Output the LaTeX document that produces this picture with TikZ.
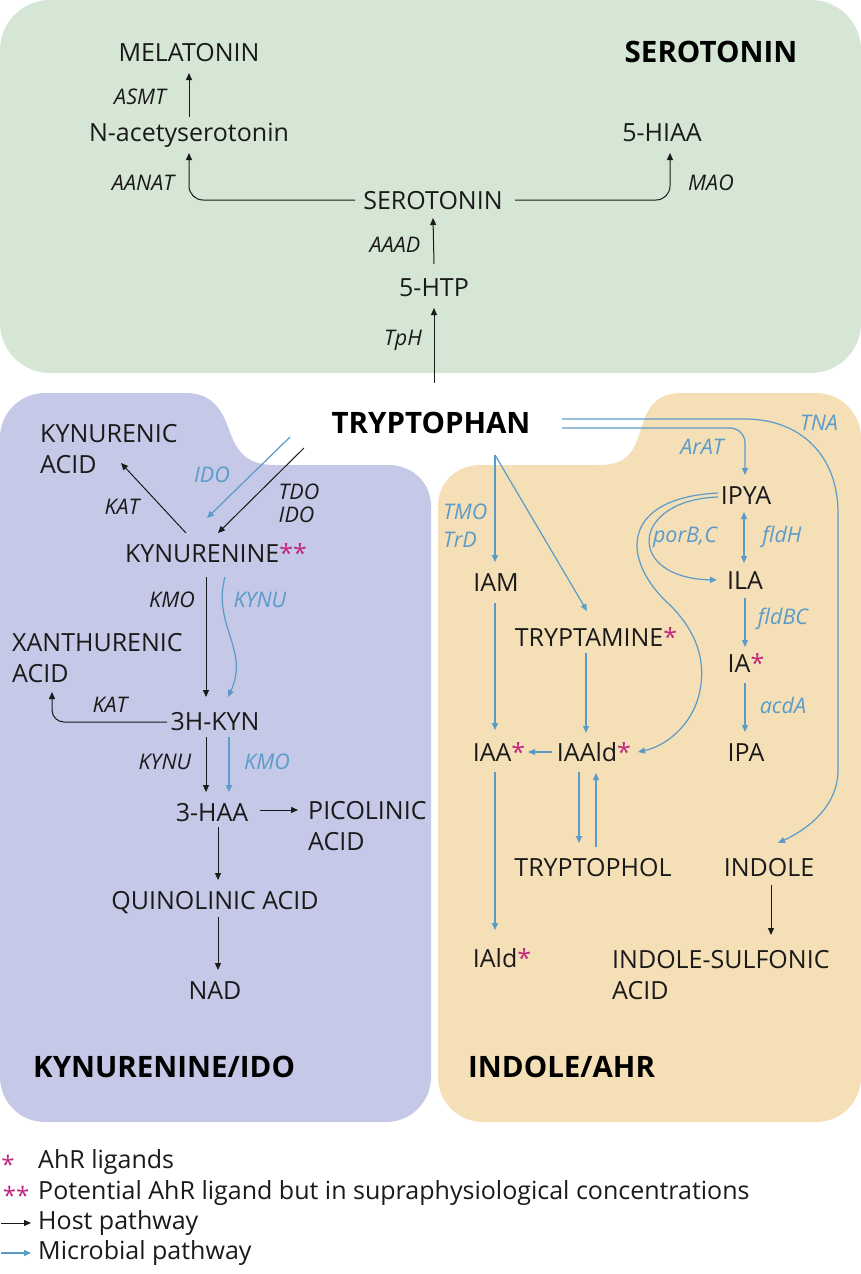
\documentclass[tikz,border=0pt]{standalone}
\usepackage{fontspec}
\setmainfont{Open Sans}
\usetikzlibrary{arrows.meta,calc}
\definecolor{sgreen}{HTML}{D5E6D5}
\definecolor{kpurple}{HTML}{C5C8E6}
\definecolor{iorange}{HTML}{F5DFB6}
\definecolor{mblue}{HTML}{5A9BC9}
\definecolor{mag}{HTML}{C0267E}
\definecolor{ink}{HTML}{1A1A1A}
\newcommand{\magstar}{\textcolor{mag}{*}}
\newcommand{\magdstar}{\textcolor{mag}{**}}
\begin{document}
\begin{tikzpicture}[x=1pt,y=-1pt,
  met/.style={inner sep=0pt, text height=18pt, text depth=0pt, font=\fontsize{25}{31}\selectfont, text=ink},
  metm/.style={inner sep=0pt, align=left, anchor=west, font=\fontsize{25}{31}\selectfont, text=ink},
  enz/.style={inner sep=0pt, font=\itshape\fontsize{21.5}{27}\selectfont, text=ink},
  menz/.style={enz, text=mblue},
  ttl/.style={inner sep=0pt, font=\bfseries\fontsize{29.5}{34}\selectfont, text=black},
  tipa/.tip={Triangle[length=7pt,width=6pt]},
  host/.style={draw=ink, line width=1pt, -tipa},
  mic/.style={draw=mblue, line width=1.2pt, -tipa},
  lgd/.style={inner sep=0pt, anchor=west, font=\fontsize{25}{28}\selectfont, text=ink}
]
\useasboundingbox (0,0) rectangle (861,1274);
% backgrounds
\fill[sgreen, rounded corners=50pt] (0,0) rectangle (861,373);
\fill[kpurple] (0,1077) -- (0,438) .. controls (0,413) and (20,393) .. (45,393) -- (185,393)
  .. controls (213,393) and (222,410) .. (230,432) .. controls (238,455) and (250,465) .. (275,465)
  -- (388,465) .. controls (413,465) and (431,483) .. (431,506) -- (431,1077)
  .. controls (431,1102) and (411,1122) .. (386,1122) -- (45,1122)
  .. controls (20,1122) and (0,1102) .. (0,1077) -- cycle;
\fill[iorange] (438,506) .. controls (438,483) and (456,465) .. (480,465) -- (598,465)
  .. controls (624,465) and (633,455) .. (640,432) .. controls (647,408) and (655,393) .. (682,393)
  -- (816,393) .. controls (841,393) and (861,413) .. (861,438) -- (861,1077)
  .. controls (861,1102) and (841,1122) .. (816,1122) -- (483,1122)
  .. controls (458,1122) and (438,1102) .. (438,1077) -- cycle;

% ---------- serotonin ----------
\node[met] (mel) at (189,52) {MELATONIN};
\node[met] (nac) at (189,132) {N-acetyserotonin};
\node[met] (hiaa) at (662,132) {5-HIAA};
\node[met] (sero) at (433,200) {SEROTONIN};
\node[met] (htp) at (434,287) {5-HTP};
\node[ttl] (serottl) at (711,52) {SEROTONIN};
\node[enz] (easmt) at (140,97) {ASMT};
\node[enz] (eaanat) at (143,183) {AANAT};
\node[enz] (emao) at (711,183) {MAO};
\node[enz] (eaaad) at (395,245) {AAAD};
\node[enz] (etph) at (403,340) {TpH};
\node[ttl] (tryp) at (431,423) {TRYPTOPHAN};

\draw[host] ($(nac)+(0,-15)$) -- ($(mel)+(0,21)$);
\draw[host, rounded corners=14pt] ($(sero)+(-78,0)$) -| ($(nac)+(0,21)$);
\draw[host, rounded corners=14pt] ($(sero)+(82,0)$) -| ($(hiaa)+(8,21)$);
\draw[host] ($(htp)+(0,-23)$) -- ($(sero)+(0,18)$);
\draw[host] ($(tryp)+(3,-40)$) -- ($(htp)+(0,21)$);

% ---------- kynurenine ----------
\node[metm] (kynacid) at (40,449) {KYNURENIC\\ACID};
\node[met] (kyn) at (216,553) {KYNURENINE\magdstar};
\node[metm] (xan) at (12,658) {XANTHURENIC\\ACID};
\node[met] (hkyn) at (215,721) {3H-KYN};
\node[met] (haa) at (212,812) {3-HAA};
\node[metm] (pic) at (308,826) {PICOLINIC\\ACID};
\node[met] (quin) at (215,900) {QUINOLINIC ACID};
\node[met] (nad) at (215,990) {NAD};
\node[ttl, anchor=west] (kynttl) at (33,1067) {KYNURENINE/IDO};
\node[enz] (ekat1) at (122,507) {KAT};
\node[menz] (eido) at (212,475) {IDO};
\node[enz, align=left, font=\itshape\fontsize{21.5}{23}\selectfont] (etdo) at (299,503) {TDO\\IDO};
\node[enz] (ekmo1) at (172,600) {KMO};
\node[menz] (ekynu1) at (260,600) {KYNU};
\node[enz] (ekat2) at (110,705) {KAT};
\node[enz] (ekynu2) at (165,762) {KYNU};
\node[menz] (ekmo2) at (267,762) {KMO};

\coordinate (idoS) at ($(tryp)+(-141,14)$);
\coordinate (tdoS) at ($(tryp)+(-127,25)$);
\draw[host] ($(kyn)+(-30,-20)$) -- ($(kynacid.west)+(81,14)$);
\draw[mic] (idoS) -- ($(kyn)+(-9,-35)$);
\draw[host] (tdoS) -- ($(kyn)+(2,-20)$);
\draw[host] ($(kyn)+(-10,24)$) -- ($(hkyn)+(-9,-24)$);
\draw[mic] ($(kyn)+(9,24)$) .. controls ($(kyn)+(-4,72)$) and ($(hkyn)+(35,-71)$) .. ($(hkyn)+(13,-24)$);
\draw[host, rounded corners=12pt] ($(hkyn)+(-48,1)$) -| ($(xan.west)+(40,34)$);
\draw[host] ($(hkyn)+(-9,16)$) -- ($(haa)+(-6,-20)$);
\draw[mic] ($(hkyn)+(14,16)$) -- ($(haa)+(17,-20)$);
\draw[host] ($(haa)+(48,-2)$) -- ($(pic.west)+(-10,-16)$);
\draw[host] ($(haa)+(6,15)$) -- ($(quin)+(3,-20)$);
\draw[host] ($(quin)+(3,17)$) -- ($(nad)+(3,-20)$);

% ---------- indole ----------
\node[met] (ipya) at (746,495) {IPYA};
\node[met] (ila) at (745,580) {ILA};
\node[met] (ia) at (746,663) {IA\magstar};
\node[met] (ipa) at (746,752) {IPA};
\node[met] (iam) at (496,582) {IAM};
\node[met] (trypt) at (596,637) {TRYPTAMINE\magstar};
\node[met] (iaald) at (594,752) {IAAld\magstar};
\node[met] (iaa) at (499,752) {IAA\magstar};
\node[met] (iald) at (502,958) {IAld\magstar};
\node[met] (tol) at (593,867) {TRYPTOPHOL};
\node[met] (indole) at (769,867) {INDOLE};
\node[metm] (isa) at (612,975) {INDOLE-SULFONIC\\ACID};
\node[ttl, anchor=west] (indttl) at (468,1067) {INDOLE/AHR};
\node[menz] (etna) at (819,423) {TNA};
\node[menz] (earat) at (702,447) {ArAT};
\node[menz, align=left, anchor=west, font=\itshape\fontsize{21.5}{28}\selectfont] (etmo) at (443,526) {TMO\\TrD};
\node[menz] (epor) at (685,537) {porB,C};
\node[menz] (efldh) at (782,537) {fldH};
\node[menz] (efldbc) at (783,619) {fldBC};
\node[menz] (eacda) at (783,705) {acdA};

\coordinate (tsplit) at ($(tryp)+(64,32)$);
\draw[mic] ($(tryp)+(131,-4)$) -- (745,419) .. controls (800,419) and (838,455) .. (838,513)
  -- (838,770) .. controls (838,805) and (810,828) .. ($(indole)+(9,-24)$);
\draw[mic, rounded corners=15pt] ($(tryp)+(131,5)$) -| ($(ipya)+(-1,-20)$);
\draw[draw=mblue, line width=1.2pt, tipa-tipa] ($(ipya)+(-2,17)$) -- ($(ila)+(-1,-17)$);
\draw[mic] ($(ipya)+(-28,2)$) .. controls (630,500) and (625,578) .. ($(ila)+(-28,0)$);
\draw[mic] ($(ipya)+(-28,-2)$) .. controls (620,498) and (620,560) .. (670,605)
  .. controls (700,635) and (705,665) .. (700,690) .. controls (695,720) and (670,745) .. ($(iaald)+(44,0)$);
\draw[mic] ($(ila)+(0,18)$) -- ($(ia)+(-1,-16)$);
\draw[mic] ($(ia)+(-1,20)$) -- ($(ipa)+(-1,-20)$);
\draw[mic] (tsplit) -- ($(iam)+(-1,-20)$);
\draw[mic] (tsplit) -- ($(trypt)+(-9,-26)$);
\draw[mic] ($(iam)+(-1,21)$) -- ($(iaa)+(-4,-22)$);
\draw[mic] ($(trypt)+(-10,16)$) -- ($(iaald)+(-8,-19)$);
\draw[mic] ($(iaald)+(-42,0)$) -- ($(iaa)+(29,0)$);
\draw[mic] ($(iaa)+(-4,20)$) -- ($(iald)+(-7,-28)$);
\draw[mic] ($(iaald)+(-15,20)$) -- ($(tol)+(-14,-24)$);
\draw[mic] ($(tol)+(3,-20)$) -- ($(iaald)+(2,21)$);
\draw[host] ($(indole)+(2,18)$) -- ($(isa.west)+(159,-40)$);

% ---------- legend ----------
\node[inner sep=0pt, text=mag, font=\fontsize{24}{28}\selectfont] (l1s) at (8,1164) {*};
\node[lgd] (l1) at (38,1162) {AhR ligands};
\node[inner sep=0pt, text=mag, font=\fontsize{24}{28}\selectfont] (l2s) at (16,1195) {**};
\node[lgd] (l2) at (38,1193) {Potential AhR ligand but in supraphysiological concentrations};
\node[lgd] (l3) at (38,1223) {Host pathway};
\node[lgd] (l4) at (38,1253) {Microbial pathway};
\coordinate (h0) at (1,1223);
\coordinate (m0) at (1,1253);
\draw[host] (h0) -- ($(l3.west)+(-7,0)$);
\draw[mic] (m0) -- ($(l4.west)+(-7,0)$);
\end{tikzpicture}
\end{document}
